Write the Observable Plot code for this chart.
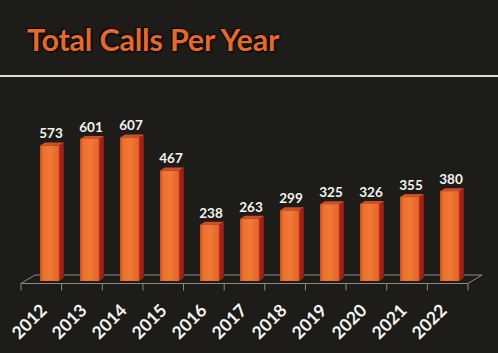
<!DOCTYPE html>
<html>
<head>
<meta charset="utf-8">
<script src="https://cdn.jsdelivr.net/npm/d3@7"></script>
<script src="https://cdn.jsdelivr.net/npm/@observablehq/plot@0.6"></script>
<style>
  html, body { margin: 0; padding: 0; background: #1e1c18; }
  #wrap { position: relative; width: 498px; height: 353px; overflow: hidden; background: #1e1c18; }
  #title { position: absolute; left: 27px; top: 24px; margin: 0; font: bold 30.5px Lato, sans-serif; line-height: 30px;
           color: #e4692d; text-shadow: 1px 1px 2px #000, -1px -1px 1px #000; white-space: nowrap; letter-spacing: -0.2px; }
  #rule { position: absolute; left: 0; top: 75px; width: 498px; height: 2px; background: #dcdcd8; }
  #chart { position: absolute; left: 0; top: 77px; }
</style>
</head>
<body>
<div id="wrap">
  <div id="title">Total Calls Per Year</div>
  <div id="rule"></div>
  <div id="chart"></div>
</div>
<script>
const years = ["2012","2013","2014","2015","2016","2017","2018","2019","2020","2021","2022"];
const calls = [573, 601, 607, 467, 238, 263, 299, 325, 326, 355, 380];
const yDomain = [0, 700];

const data = years.map((year, i) => ({year, value: calls[i]}));

// 3D side/top faces of bars, drawn from Plot's scales
function bars3d(index, scales, values, dimensions) {
  const x = scales.x, y = scales.y;
  const bw = x.bandwidth ? x.bandwidth() : 19;
  const g = d3.create("svg:g");
  const sx = 5, sy = 3;
  for (const d of data) {
    const x0 = x(d.year), x1 = x0 + bw, yt = y(d.value), yb = y(0);
    g.append("path")
      .attr("d", `M${x1},${yt}L${x1 + sx},${yt - sy}L${x1 + sx},${yb - sy}L${x1},${yb}Z`)
      .attr("fill", "url(#sideGrad)");
    g.append("path")
      .attr("d", `M${x0},${yt}L${x0 + sx},${yt - sy}L${x1 + sx},${yt - sy}L${x1},${yt}Z`)
      .attr("fill", "#d24e28");
  }
  return g.node();
}

function floor(index, scales, values, dimensions) {
  const {width, marginLeft, marginRight} = dimensions;
  const y0 = scales.y(0);
  const n = years.length;
  const g = d3.create("svg:g").attr("stroke", "#8c8c84").attr("stroke-width", 1).attr("fill", "none");
  const fl = marginLeft - 6, fr = width - marginRight - 4, fy = y0 + 2.5;
  const bl = marginLeft + 8, br = width - marginRight + 10, by = y0 - 6;
  g.append("path").attr("d", `M${fl},${fy}L${fr},${fy}L${br},${by}L${bl},${by}Z`);
  for (let i = 0; i <= n; i++) {
    const tx = fl + i * (fr - fl) / n;
    g.append("line").attr("x1", tx).attr("x2", tx).attr("y1", fy).attr("y2", fy + 7);
  }
  return g.node();
}

const chart = Plot.plot({
  width: 498,
  height: 276,
  marginLeft: 27,
  marginRight: 26,
  marginTop: 38.5,
  marginBottom: 72,
  style: {background: "transparent", overflow: "visible"},
  x: {domain: years, paddingInner: 0.53, paddingOuter: 0.265, axis: null},
  y: {domain: yDomain, axis: null},
  marks: [
    floor,
    bars3d,
    Plot.barY(data, {x: "year", y: "value", fill: "url(#frontGrad)"}),
    Plot.text(data, {x: "year", y: "value", text: d => String(d.value), dy: -12, dx: 1, fill: "#f4f4f2",
      fontSize: 13.5, fontWeight: "bold", fontFamily: "Lato, sans-serif", lineAnchor: "middle"}),
    Plot.text(data, {x: "year", y: () => 0, text: "year", rotate: -45, textAnchor: "end", lineAnchor: "middle",
      dx: -6, dy: 26, fill: "#f6f6f4", fontSize: 17.5, fontWeight: "bold", fontFamily: "Lato, sans-serif"})
  ]
});

const defs = d3.select(chart).insert("defs", ":first-child");
const fg = defs.append("linearGradient").attr("id", "frontGrad").attr("x1", "0").attr("x2", "1").attr("y1", "0").attr("y2", "0");
fg.append("stop").attr("offset", "0%").attr("stop-color", "#c94d1f");
fg.append("stop").attr("offset", "18%").attr("stop-color", "#ec7231");
fg.append("stop").attr("offset", "55%").attr("stop-color", "#f07a35");
fg.append("stop").attr("offset", "100%").attr("stop-color", "#e2632a");
const sg = defs.append("linearGradient").attr("id", "sideGrad").attr("x1", "0").attr("x2", "1").attr("y1", "0").attr("y2", "0");
sg.append("stop").attr("offset", "0%").attr("stop-color", "#b82a1c");
sg.append("stop").attr("offset", "100%").attr("stop-color", "#8a1c14");

document.getElementById("chart").appendChild(chart);
</script>
</body>
</html>
